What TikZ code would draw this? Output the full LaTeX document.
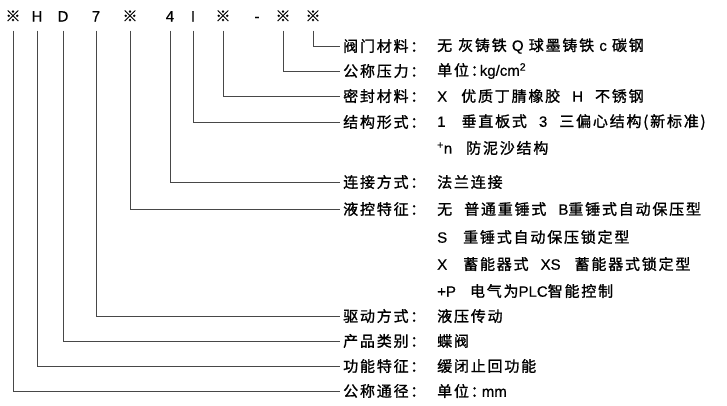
\documentclass[tikz,border=0pt]{standalone}
\usepackage{fontspec}
\setmainfont{Noto Sans CJK SC}[LetterSpace=12,BoldFont=Noto Sans CJK SC,BoldFeatures={FakeBold=1.2}]
\newfontfamily\latfont{Liberation Sans}[BoldFont=Liberation Sans,BoldFeatures={FakeBold=0.6}]
\newcommand\lat[1]{{\latfont #1}}
\usetikzlibrary{positioning}

\begin{document}
\begin{tikzpicture}[x=1pt,y=-1pt,
  code/.style={font=\fontsize{15}{15}\selectfont\bfseries,text height=11pt,text depth=0pt,inner xsep=0pt,inner ysep=9pt},
  cat/.style={anchor=west,font=\fontsize{15}{15}\selectfont\bfseries,inner xsep=3pt,inner ysep=0pt},
  val/.style={anchor=west,font=\fontsize{15}{15}\selectfont\bfseries,inner sep=0pt},
  lead/.style={draw=black!72,line width=0.8pt}]
\useasboundingbox (0,0) rectangle (727,405);
\node[code] (sizeCode) at (13,16) {※};
\node[code] (funcCode) at (37,16) {\lat{H}};
\node[code] (typeCode) at (63,16) {\lat{D}};
\node[code] (driveCode) at (96,16) {\lat{7}};
\node[code] (ctrlCode) at (130,16) {※};
\node[code] (connCode) at (170,16) {\lat{4}};
\node[code] (structCode) at (193,16) {\lat{I}};
\node[code] (sealCode) at (223,16) {※};
\node[code] (dashSym) at (257,16) {\lat{-}};
\node[code] (pressCode) at (283,16) {※};
\node[code] (matCode) at (313,16) {※};
\node[cat] (matLab) at (340,46) {阀门材料：};
\node[cat] (pressLab) at (340,71) {公称压力：};
\node[cat] (sealLab) at (340,96) {密封材料：};
\node[cat] (structLab) at (340,122) {结构形式：};
\node[cat] (connLab) at (340,182) {连接方式：};
\node[cat] (ctrlLab) at (340,209) {液控特征：};
\node[cat] (driveLab) at (340,316) {驱动方式：};
\node[cat] (typeLab) at (340,341) {产品类别：};
\node[cat] (funcLab) at (340,366) {功能特征：};
\node[cat] (sizeLab) at (340,391) {公称通径：};
\node[val] (matVal) at (437,46) {无\hspace{6pt}灰铸铁 \lat{Q} 球墨铸铁 \lat{c} 碳钢};
\node[val] (pressVal) at (437,71) {单位：\hspace{-6pt}\lat{kg/cm\textsuperscript{2}}};
\node[val] (sealVal) at (437,96) {\lat{X}\hspace{14pt}优质丁腈橡胶\hspace{12pt}\lat{H}\hspace{12pt}不锈钢};
\node[val] (structVal) at (437,122) {\lat{1}\hspace{16pt}垂直板式\hspace{12pt}\lat{3}\hspace{12pt}三偏心结构(新标准)};
\node[val] (structValB) at (437,148) {\lat{\textsuperscript{+}n}\hspace{14pt}防泥沙结构};
\node[val] (connVal) at (437,182) {法兰连接};
\node[val] (ctrlVal) at (437,209) {无\hspace{12pt}普通重锤式\hspace{12pt}\lat{B}重锤式自动保压型};
\node[val] (ctrlValB) at (437,237) {\lat{S}\hspace{16pt}重锤式自动保压锁定型};
\node[val] (ctrlValC) at (437,264) {\lat{X}\hspace{16pt}蓄能器式\hspace{12pt}\lat{XS}\hspace{14pt}蓄能器式锁定型};
\node[val] (ctrlValD) at (437,291) {\lat{+P}\hspace{14pt}电气为\lat{PLC}智能控制};
\node[val] (driveVal) at (437,316) {液压传动};
\node[val] (typeVal) at (437,341) {蝶阀};
\node[val] (funcVal) at (437,366) {缓闭止回功能};
\node[val] (sizeVal) at (437,391) {单位：\hspace{-4pt}\lat{mm}};
\draw[lead] (matCode.south) |- (matLab.west);
\draw[lead] (pressCode.south) |- (pressLab.west);
\draw[lead] (sealCode.south) |- (sealLab.west);
\draw[lead] (structCode.south) |- (structLab.west);
\draw[lead] (connCode.south) |- (connLab.west);
\draw[lead] (ctrlCode.south) |- (ctrlLab.west);
\draw[lead] (driveCode.south) |- (driveLab.west);
\draw[lead] (typeCode.south) |- (typeLab.west);
\draw[lead] (funcCode.south) |- (funcLab.west);
\draw[lead] (sizeCode.south) |- (sizeLab.west);
\end{tikzpicture}
\end{document}
